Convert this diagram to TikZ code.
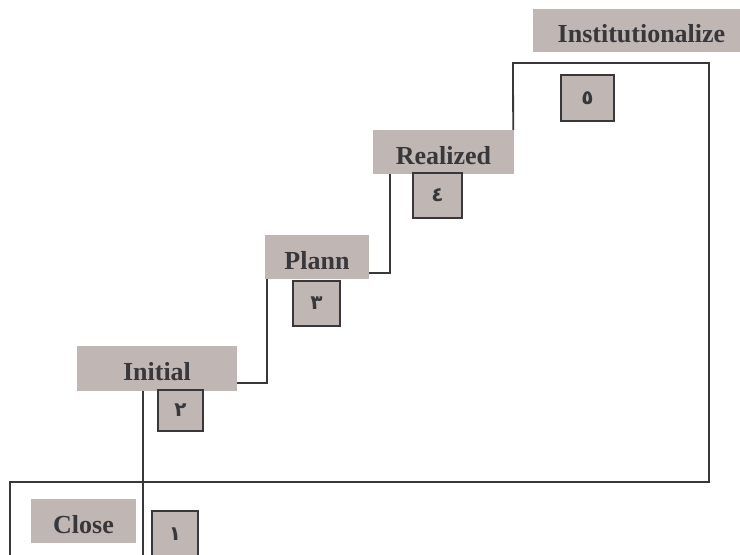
\documentclass[tikz,border=0pt]{standalone}
\usepackage{fontspec}
\setmainfont{Liberation Serif}
\newfontfamily\arabicfont[Script=Arabic]{DejaVu Sans}
\TeXXeTstate=1
\definecolor{boxgray}{RGB}{192,182,180}
\definecolor{ink}{RGB}{55,55,60}
\begin{document}
\begin{tikzpicture}[x=1pt,y=-1pt,
  stagebox/.style={fill=boxgray, inner sep=0pt, text=ink, text height=24pt, text depth=0pt, font=\bfseries\fontsize{26}{30}\selectfont},
  numbox/.style={fill=boxgray, draw=ink, line width=1.8pt, inner sep=0pt, text=ink, font=\arabicfont\bfseries\fontsize{20}{22}\selectfont},
  conn/.style={draw=ink, line width=1.8pt}]
\clip (0,0) rectangle (740,555);
\fill[white] (0,0) rectangle (740,555);
% stage labels
\node[stagebox, minimum width=105pt, minimum height=44pt] (close) at (83.5,521) {Close};
\node[stagebox, minimum width=160pt, minimum height=45pt] (initial) at (157,368.5) {Initial};
\node[stagebox, minimum width=104pt, minimum height=44pt] (plann) at (317,257) {Plann};
\node[stagebox, minimum width=141pt, minimum height=44pt] (realized) at (443.5,152) {Realized};
\node[stagebox, minimum width=217pt, minimum height=43pt] (inst) at (641.5,30.5) {Institutionalize};
% number boxes
\node[numbox, minimum width=46pt, minimum height=46pt] (n1) at (175,534) {\beginR ١\endR};
\node[numbox, minimum width=45pt, minimum height=41pt] (n2) at (180.5,410.5) {\beginR ٢\endR};
\node[numbox, minimum width=47pt, minimum height=45pt] (n3) at (316.5,303.5) {\beginR ٣\endR};
\node[numbox, minimum width=49pt, minimum height=45pt] (n4) at (437.5,195.5) {\beginR ٤\endR};
\node[numbox, minimum width=53pt, minimum height=46pt] (n5) at (587.5,98) {\beginR ٥\endR};
% connectors
\coordinate (tl) at (513,63);
\coordinate (tr) at (709,63);
\coordinate (br) at (709,482);
\coordinate (bl) at (10,482);
\coordinate (blend) at (10,560);
\coordinate (vend) at (143,560);
\draw[conn] ([xshift=-1pt]realized.north east) -- (tl) -- (tr) -- (br) -- (bl) -- (blend);
\draw[conn] ([xshift=17pt]realized.south west) |- ([yshift=-16pt]plann.east);
\draw[conn] ([xshift=2pt]plann.south west) |- ([yshift=-14.5pt]initial.east);
\draw[conn] ([xshift=-14pt]initial.south) -- (vend);
\end{tikzpicture}
\end{document}
